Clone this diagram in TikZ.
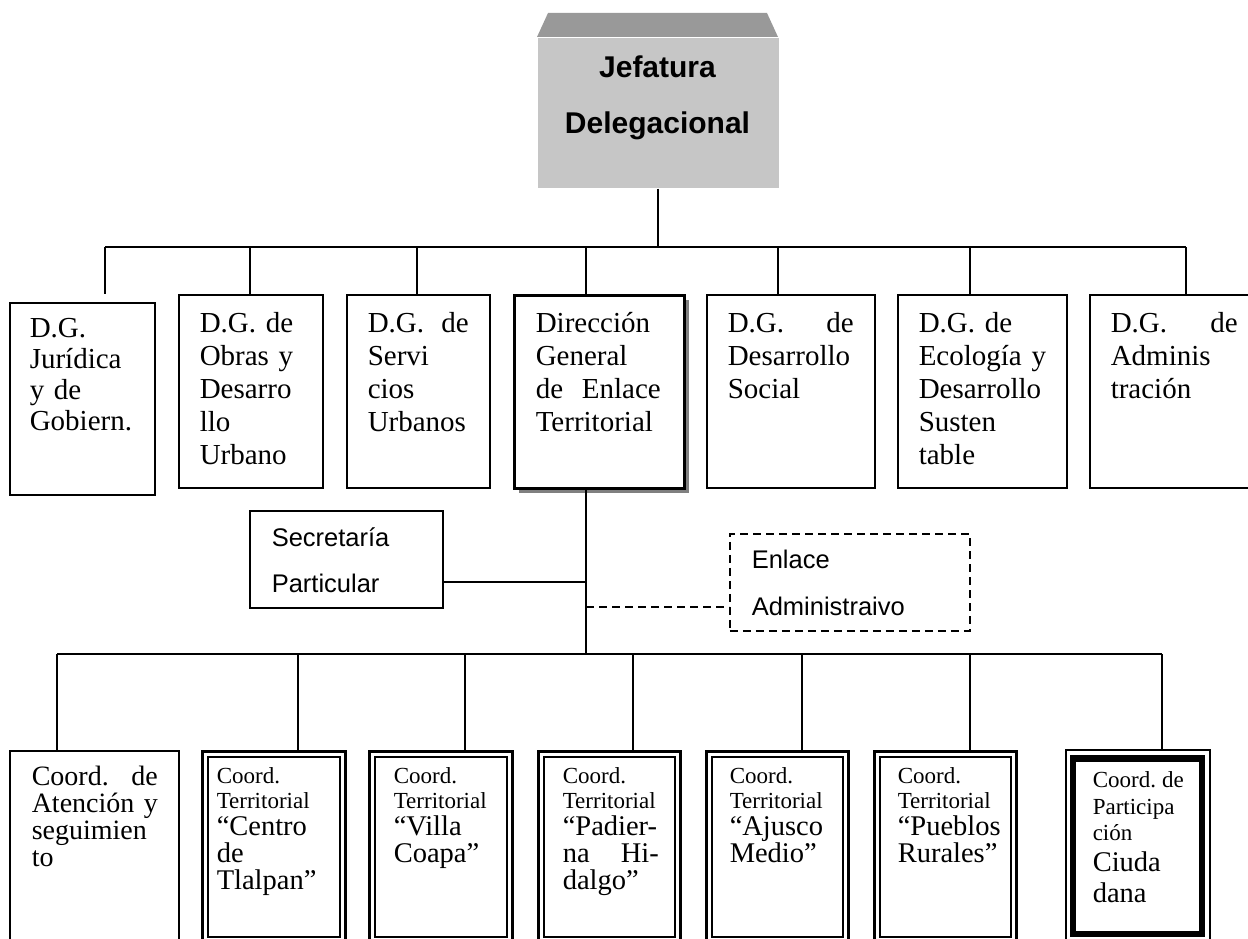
\documentclass[tikz,border=0pt]{standalone}
\usepackage{fontspec}
\setmainfont{Liberation Serif}
\newfontfamily\arialf{Liberation Sans}
\newcommand\nohyph{\hyphenpenalty=10000\exhyphenpenalty=10000\relax}
\newcommand\smf{\fontsize{23}{25}\selectfont}
\newcommand\bgf{\fontsize{28.5}{27}\selectfont}
\newcommand\topst{\rule{0pt}{22pt}}
\newcommand\smst{\rule{0pt}{18pt}}
\definecolor{jefbody}{RGB}{198,198,198}
\definecolor{jeftop}{RGB}{153,153,153}
\definecolor{shadowgray}{RGB}{128,128,128}
\begin{document}
\begin{tikzpicture}[x=1pt,y=-1pt,line width=1.5pt,
  frame/.style={draw, line width=1.5pt, inner sep=0pt, anchor=north west, fill=white},
  txt/.style={inner sep=0pt, anchor=north west, align=left, font=\fontsize{29}{33}\selectfont\nohyph},
  btxt/.style={inner sep=0pt, anchor=north west, align=left, font=\nohyph},
  conn/.style={draw, line width=1.5pt},
  dconn/.style={draw, line width=1.5pt, dash pattern=on 8pt off 5pt},
  dbl/.style={draw, line width=2.6pt},
]
\useasboundingbox (0,0) rectangle (1248,939);
\clip (0,0) rectangle (1248,939);

% ---------- Jefatura ----------
\fill[jeftop] (548,13) -- (767,13) -- (778,37) -- (537,37) -- cycle;
\node[fill=jefbody, inner sep=0pt, anchor=north west, minimum width=241, minimum height=150] (jef) at (537,37) {};
\node[inner sep=0pt, anchor=base, align=center, font=\arialf\bfseries\fontsize{30}{56}\selectfont] (jeftxt) at (657.5,134) {Jefatura\\Delegacional};

% ---------- bus coordinates ----------
\coordinate (bt) at (658,247);
\coordinate (btL) at (105,247);
\coordinate (btR) at (1186,247);
\coordinate (c1) at (105,294);
\coordinate (c2) at (250,294);
\coordinate (c3) at (417,294);
\coordinate (c4) at (586,294);
\coordinate (c5) at (778,294);
\coordinate (c6) at (970,294);
\coordinate (c7) at (1186,294);

\path[conn] (jef.south -| bt) -- (bt);
\path[conn] (btL) -- (btR);
\foreach \c in {c1,c2,c3,c4,c5,c6,c7} {\path[conn] (\c |- bt) -- (\c);}

% ---------- level 1 boxes ----------
\node[frame, minimum width=145, minimum height=192] (g1) at (9,302) {};
\node[frame, minimum width=144, minimum height=193] (g2) at (178,294) {};
\node[frame, minimum width=143, minimum height=193] (g3) at (346,294) {};
\fill[shadowgray] (519,300) rectangle (689,493);
\node[frame, line width=2.6pt, minimum width=170, minimum height=193] (g4) at (513,294) {};
\node[frame, minimum width=168, minimum height=193] (g5) at (706,294) {};
\node[frame, minimum width=169, minimum height=193] (g6) at (897,294) {};
\node[frame, minimum width=172, minimum height=193] (g7) at (1089,294) {};

\node[txt, text width=120, font=\fontsize{29}{31}\selectfont] (t1) at (29,315) {\topst D.G.\\Jurídica\\y de\\Gobiern.\par};
\node[txt, text width=120] (t2) at (199,310) {\topst D.G. de\\Obras y\\Desarro\\llo\\Urbano\par};
\node[txt, text width=101] (t3) at (367,310) {\topst D.G.\hfill de\\Servi\\cios\\Urbanos\par};
\node[txt, text width=125] (t4) at (535,310) {\topst Dirección\\General\\de\hfill Enlace\\Territorial\par};
\node[txt, text width=126] (t5) at (727,310) {\topst D.G.\hfill de\\Desarrollo\\Social\par};
\node[txt, text width=145] (t6) at (918,310) {\topst D.G. de\\Ecología y\\Desarrollo\\Susten\\table\par};
\node[txt, text width=127] (t7) at (1110,310) {\topst D.G.\hfill de\\Adminis\\tración\par};

% ---------- staff ----------
\coordinate (dg) at (586,487);
\coordinate (mid) at (586,654);
\coordinate (secj) at (586,582);
\coordinate (enlj) at (586,607);
\node[frame, minimum width=193, minimum height=97] (sec) at (249,510) {};
\node[inner sep=0pt, anchor=base west, align=left, font=\arialf\fontsize{25.5}{46}\selectfont] (sectxt) at (271,592) {Secretaría\\Particular};
\node[frame, dash pattern=on 8pt off 5pt, minimum width=240, minimum height=97] (enl) at (729,533) {};
\node[inner sep=0pt, anchor=base west, align=left, font=\arialf\fontsize{25.5}{47}\selectfont] (enltxt) at (751,615) {Enlace\\Administraivo};

\path[conn] (dg) -- (mid);
\path[conn] (sec.east |- secj) -- (secj);
\path[dconn] (enlj) -- (enl.west |- enlj);

% ---------- lower bus ----------
\coordinate (bbL) at (57,654);
\coordinate (bbR) at (1162,654);
\path[conn] (bbL) -- (bbR);
\coordinate (d1) at (57,750);
\coordinate (d2) at (298,750);
\coordinate (d3) at (465,750);
\coordinate (d4) at (633,750);
\coordinate (d5) at (802,750);
\coordinate (d6) at (970,750);
\coordinate (d7) at (1162,749);
\foreach \c in {d1,d2,d3,d4,d5,d6,d7} {\path[conn] (\c |- bbL) -- (\c);}

% ---------- level 2 boxes ----------
\node[frame, minimum width=169, minimum height=200] (k1) at (9,750) {};
\foreach \n/\l/\r in {k2/201/347, k3/368/514, k4/537/682, k5/705/850, k6/873/1018} {
  \node[inner sep=0pt, anchor=north west, minimum width=\r-\l, minimum height=200] (\n) at (\l,750) {};
  \path[dbl] (\l+1.3,960) |- (\r-1.3,751.3) -- (\r-1.3,960);
  \path[dbl] (\l+7,937) |- (\r-7,757) |- cycle;
}
\node[inner sep=0pt, anchor=north west, minimum width=146, minimum height=200] (k7) at (1065,749) {};
\path[draw, line width=1.6pt] (1065.8,960) |- (1210.2,749.8) -- (1210.2,960);
\path[draw, line width=6.5pt] (1073.2,934) |- (1202,758.5) |- cycle;

\node[btxt, text width=126, font=\fontsize{28}{27}\selectfont] (u1) at (31,763) {\topst Coord.\hfill de\\Atención\hfill y\\seguimien\\to\par};
\node[btxt, text width=125] (u2) at (216,765) {\smf\smst Coord.\\Territorial\par\bgf “Centro\\de\\Tlalpan”\par};
\node[btxt, text width=115] (u3) at (393,765) {\smf\smst Coord.\\Territorial\par\bgf “Villa\\Coapa”\par};
\node[btxt, text width=96] (u4) at (562,765) {\smf\smst Coord.\\Territorial\par\bgf “Padier-\\na\hfill Hi-\\dalgo”\par};
\node[btxt, text width=115] (u5) at (729,765) {\smf\smst Coord.\\Territorial\par\bgf “Ajusco\\Medio”\par};
\node[btxt, text width=115] (u6) at (897,765) {\smf\smst Coord.\\Territorial\par\bgf “Pueblos\\Rurales”\par};
\node[btxt, text width=91] (u7) at (1092,769) {\fontsize{23}{26.5}\selectfont\smst Coord.\hfill de\\Participa\\ción\par\fontsize{28.5}{31}\selectfont Ciuda\\dana\par};
\end{tikzpicture}
\end{document}
